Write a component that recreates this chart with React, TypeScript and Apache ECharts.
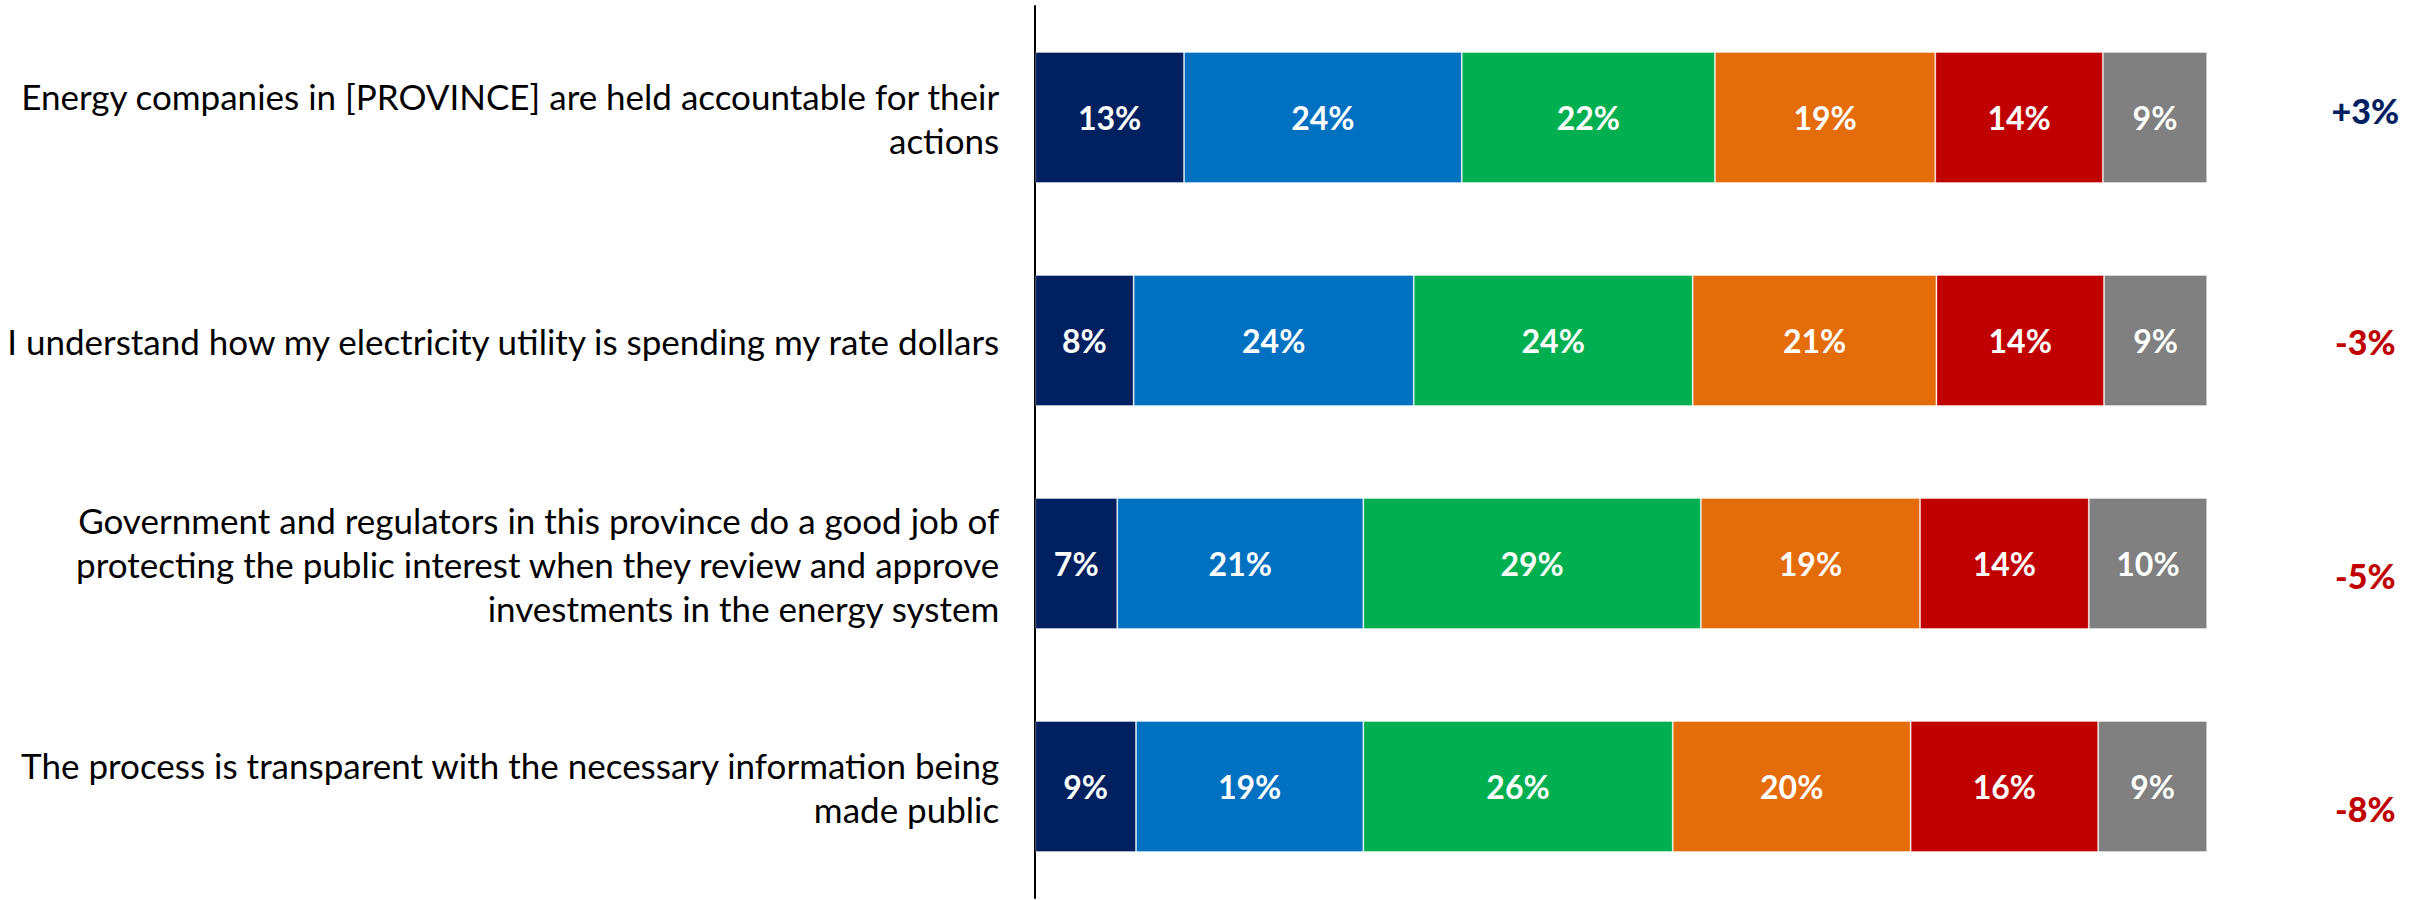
import React, { useEffect, useRef } from "react";
import * as echarts from "echarts";

const categories = [
  "Energy companies in [PROVINCE] are held accountable for their\nactions",
  "I understand how my electricity utility is spending my rate dollars",
  "Government and regulators in this province do a good job of\nprotecting the public interest when they review and approve\ninvestments in the energy system",
  "The process is transparent with the necessary information being\nmade public",
];

const seriesNames = ["S1", "S2", "S3", "S4", "S5", "S6"];
const s1 = [12.7, 8.4, 7.0, 8.6];
const s2 = [23.7, 23.9, 21.0, 19.4];
const s3 = [21.6, 23.8, 28.8, 26.4];
const s4 = [18.8, 20.8, 18.7, 20.3];
const s5 = [14.3, 14.3, 14.4, 16.0];
const s6 = [8.9, 8.8, 10.1, 9.3];
const seriesValues = [s1, s2, s3, s4, s5, s6];

const diffs = [3, -3, -5, -8];

const colors = ["#002060", "#0070C0", "#00B050", "#E46C0A", "#C00000", "#808080"];
const diffYOffsets = [-7, 1, 12, 22];
const DIFF_X = 113.5;

export default function App() {
  const ref = useRef<HTMLDivElement>(null);
  useEffect(() => {
    document.body.style.margin = "0";
    const chart = echarts.init(ref.current!, null, { renderer: "svg" });
    const font = "Lato, 'Open Sans', sans-serif";
    const bars = seriesValues.map((vals, i) => ({
      name: seriesNames[i],
      type: "bar",
      stack: "total",
      barWidth: 131,
      data: vals,
      itemStyle: { color: colors[i], borderColor: "rgba(255,255,255,0.35)", borderWidth: 1 },
      label: {
        show: true,
        position: "inside",
        color: "#ffffff",
        fontFamily: font,
        fontWeight: "bold",
        fontSize: 32,
        formatter: (p: any) => Math.round(p.value) + "%",
      },
      emphasis: { disabled: true },
    }));
    const diffSeries = {
      type: "scatter",
      symbolSize: 0,
      itemStyle: { opacity: 1 },
      data: diffs.map((d, i) => ({
        value: [DIFF_X, i],
        label: {
          offset: [0, diffYOffsets[i]],
          color: d > 0 ? "#002060" : "#C00000",
        },
      })),
      label: {
        show: true,
        position: "inside",
        opacity: 1,
        fontFamily: font,
        fontWeight: 900,
        fontSize: 34,
        formatter: (p: any) => (diffs[p.dataIndex] > 0 ? "+" : "") + diffs[p.dataIndex] + "%",
      },
      emphasis: { disabled: true },
    };
    chart.setOption({
      animation: false,
      grid: { left: 1034, top: 6, bottom: 2, width: 1348.95, containLabel: false },
      xAxis: {
        type: "value",
        min: 0,
        max: 115,
        show: false,
      },
      yAxis: {
        type: "category",
        inverse: true,
        data: categories,
        axisLine: { show: true, lineStyle: { color: "#000000", width: 2 } },
        axisTick: { show: false },
        axisLabel: {
          margin: 36,
          color: "#000000",
          fontFamily: font,
          fontSize: 35,
          lineHeight: 44,
          align: "right",
        },
      },
      series: [...bars, diffSeries],
    });
    return () => chart.dispose();
  }, []);
  return <div ref={ref} style={{ width: 2432, height: 900 }} />;
}
